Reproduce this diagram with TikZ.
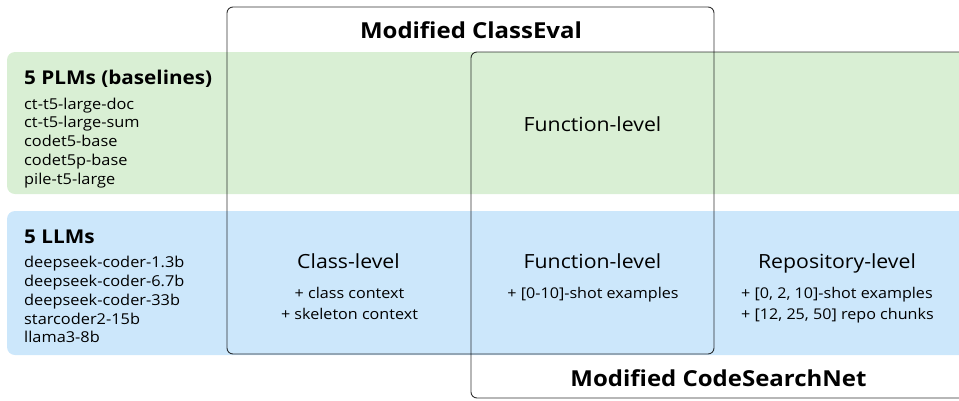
\documentclass[tikz,border=0pt]{standalone}
\usepackage{fontspec}
\setmainfont[FakeStretch=1.09]{Open Sans}
\definecolor{bandgreen}{HTML}{D9EFD4}
\definecolor{bandblue}{HTML}{CCE7FB}
\tikzset{
  band/.style={rounded corners=8pt},
  setbox/.style={draw=black, draw opacity=0.8, line width=0.9pt, rounded corners=6pt},
  title/.style={font=\bfseries\fontsize{22}{24}\selectfont, inner sep=0pt, anchor=base},
  grouptitle/.style={font=\bfseries\fontsize{19}{21}\selectfont, inner sep=0pt, anchor=base west},
  modelname/.style={font=\fontsize{15}{18}\selectfont, inner sep=0pt, anchor=base west},
  level/.style={font=\fontsize{19.5}{20}\selectfont, inner sep=0pt, anchor=base},
  detail/.style={font=\fontsize{14.8}{18}\selectfont, inner sep=0pt, anchor=base},
  detailleft/.style={detail, anchor=base west},
}
\begin{document}
\begin{tikzpicture}[x=1pt,y=-1pt]
\useasboundingbox (0,0) rectangle (959,400);
\clip (0,0) rectangle (959,400);
% bands
\fill[band, bandgreen] (7,52) rectangle (980,194);
\fill[band, bandblue] (7,211) rectangle (980,355);
% sets
\draw[setbox] (227,7) rectangle (714,354);
\draw[setbox] (471,52) rectangle (990,398);
% titles
\node[title] (ce) at (471,38) {Modified ClassEval};
\node[title] (csn) at (718.5,386.5) {Modified CodeSearchNet};
% PLMs
\node[grouptitle] (plm) at (24,84.5) {5 PLMs (baselines)};
\foreach \t [count=\i from 0] in {ct-t5-large-doc,ct-t5-large-sum,codet5-base,codet5p-base,pile-t5-large}
  \node[modelname] (plm\i) at (24,109+18.8*\i) {\t};
% LLMs
\node[grouptitle] (llm) at (24,243) {5 LLMs};
\foreach \t [count=\i from 0] in {deepseek-coder-1.3b,deepseek-coder-6.7b,deepseek-coder-33b,starcoder2-15b,llama3-8b}
  \node[modelname] (llm\i) at (24,267.7+18.8*\i) {\t};
% levels
\node[level] (fg) at (592.5,131.7) {Function-level};
\node[level] (cl) at (348.5,268) {Class-level};
\node[level] (fb) at (592.5,268) {Function-level};
\node[level] (rl) at (837,268) {Repository-level};
\node[detail] (cl1) at (349.5,298) {+ class context};
\node[detail] (cl2) at (349.5,319.5) {+ skeleton context};
\node[detail] (fb1) at (593,298) {+ [0-10]-shot examples};
\node[detailleft] (rl1) at (741,298) {+ [0, 2, 10]-shot examples};
\node[detailleft] (rl2) at (741,319.5) {+ [12, 25, 50] repo chunks};
\end{tikzpicture}
\end{document}
